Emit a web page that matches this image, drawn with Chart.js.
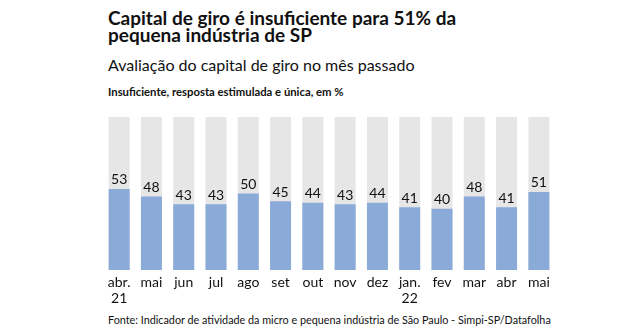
<!DOCTYPE html>
<html lang="pt-BR">
<head>
<meta charset="utf-8">
<script src="https://cdn.jsdelivr.net/npm/chart.js@4.4.1/dist/chart.umd.min.js"></script>
<style>
  body { margin: 0; width: 629px; height: 333px; background: #fff; position: relative; overflow: hidden; font-family: Lato, sans-serif; color: #111; }
  #titulo { position: absolute; left: 108px; top: 9px; font-family: 'Liberation Sans Narrow', Lato, sans-serif; font-weight: bold; font-size: 19px; line-height: 17px; white-space: nowrap; }
  #subtitulo { position: absolute; left: 108px; top: 55px; font-size: 16px; line-height: 20px; white-space: nowrap; }
  #nota { position: absolute; left: 108px; top: 85px; font-size: 11.3px; font-weight: bold; white-space: nowrap; }
  #grafico { position: absolute; left: 0; top: 105px; width: 629px; height: 205px; }
  #fonte { position: absolute; left: 108px; top: 313px; font-size: 10.8px; white-space: nowrap; }
</style>
</head>
<body>
<div id="titulo">Capital de giro é insuficiente para 51% da<br>pequena indústria de SP</div>
<div id="subtitulo">Avaliação do capital de giro no mês passado</div>
<div id="nota">Insuficiente, resposta estimulada e única, em %</div>
<div id="grafico"><canvas id="capitalChart"></canvas></div>
<div id="fonte">Fonte: Indicador de atividade da micro e pequena indústria de São Paulo - Simpi-SP/Datafolha</div>

<script>
const meses = [['abr.', '21'], 'mai', 'jun', 'jul', 'ago', 'set', 'out', 'nov', 'dez', ['jan.', '22'], 'fev', 'mar', 'abr', 'mai'];
const insuficiente = [53, 48, 43, 43, 50, 45, 44, 43, 44, 41, 40, 48, 41, 51];
const total = [100, 100, 100, 100, 100, 100, 100, 100, 100, 100, 100, 100, 100, 100];

// escreve o valor em cima de cada barra azul
const rotulos = {
    id: 'rotulos',
    afterDatasetsDraw(chart) {
        const ctx = chart.ctx;
        const meta = chart.getDatasetMeta(0);
        ctx.save();
        ctx.font = '14px Lato, sans-serif';
        ctx.fillStyle = '#111';
        ctx.textAlign = 'center';
        ctx.textBaseline = 'bottom';
        meta.data.forEach((bar, i) => {
            ctx.fillText(insuficiente[i], bar.x, bar.y - 2);
        });
        ctx.restore();
    }
};

Chart.defaults.font.family = 'Lato, sans-serif';
Chart.defaults.color = '#111';

new Chart(document.getElementById('capitalChart'), {
    type: 'bar',
    data: {
        labels: meses,
        datasets: [{
            label: 'Insuficiente',
            data: insuficiente,
            backgroundColor: '#8aaad8',
            barPercentage: 0.65,
            categoryPercentage: 1,
            order: 1
        }, {
            label: 'Total',
            data: total,
            backgroundColor: '#e6e6e6',
            barPercentage: 0.65,
            categoryPercentage: 1,
            order: 2
        }]
    },
    options: {
        responsive: true,
        maintainAspectRatio: false,
        animation: false,
        layout: { padding: { left: 103, right: 74, top: 12, bottom: 0 } },
        plugins: {
            legend: { display: false },
            tooltip: { enabled: false }
        },
        scales: {
            x: {
                stacked: true,
                grid: { display: false, drawTicks: false },
                border: { display: false },
                ticks: { font: { size: 14, lineHeight: 1.1 }, padding: 5, maxRotation: 0, autoSkip: false },
                afterFit: scale => { scale.height = 40; }
            },
            y: {
                display: false,
                min: 0,
                max: 100
            }
        }
    },
    plugins: [rotulos]
});
</script>
</body>
</html>
